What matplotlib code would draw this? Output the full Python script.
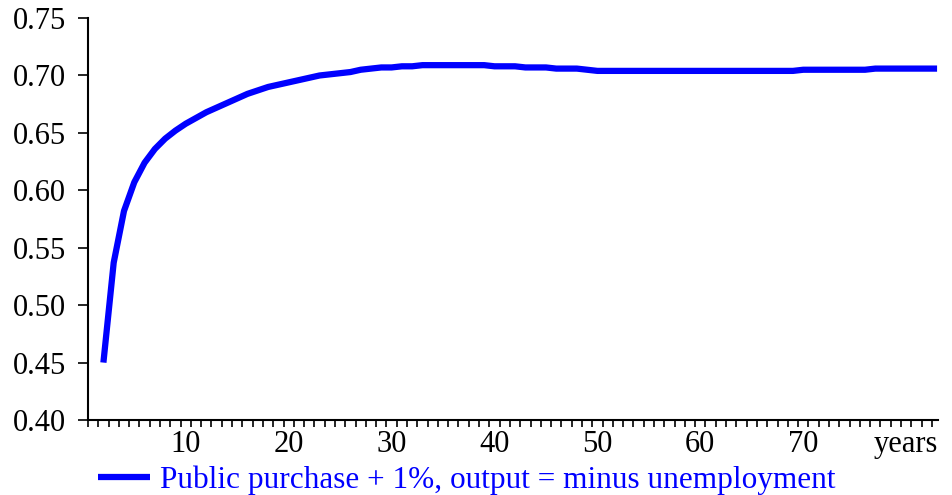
import numpy as np
import matplotlib.pyplot as plt
from matplotlib.ticker import FixedLocator, FormatStrFormatter

plt.rcParams['font.family'] = ['Liberation Serif', 'DejaVu Serif']

# response of output (minus unemployment) to +1% public purchase, by year
years = np.arange(2, 84)
response = [
    0.450, 0.537, 0.582, 0.607, 0.624, 0.636, 0.645, 0.652, 0.658,   # 2-10
    0.663, 0.668, 0.672, 0.676, 0.680, 0.684, 0.687, 0.690, 0.692, 0.694,  # 11-20
    0.696, 0.698, 0.700, 0.701, 0.702, 0.703, 0.705, 0.706, 0.707, 0.707,  # 21-30
    0.708, 0.708, 0.709, 0.709, 0.709, 0.709, 0.709, 0.709, 0.709, 0.708,  # 31-40
    0.708, 0.708, 0.707, 0.707, 0.707, 0.706, 0.706, 0.706, 0.705, 0.704,  # 41-50
    0.704, 0.704, 0.704, 0.704, 0.704, 0.704, 0.704, 0.704, 0.704, 0.704,  # 51-60
    0.704, 0.704, 0.704, 0.704, 0.704, 0.704, 0.704, 0.704, 0.704, 0.705,  # 61-70
    0.705, 0.705, 0.705, 0.705, 0.705, 0.705, 0.706, 0.706, 0.706, 0.706,  # 71-80
    0.706, 0.706, 0.706,                                                   # 81-83
]
label_years = [10, 20, 30, 40, 50, 60, 70, 80]
label_text = ['10', '20', '30', '40', '50', '60', '70', 'years']
y_ticks = [0.40, 0.45, 0.50, 0.55, 0.60, 0.65, 0.70, 0.75]

fig = plt.figure(figsize=(9.52, 4.95), dpi=100)
ax = fig.add_axes([0.0924, 0.1515, 0.893, 0.812])

# years sit in the middle of their tick interval
ax.plot(years - 0.5, response, color='#0000ff', lw=4.5, solid_capstyle='butt',
        label='Public purchase + 1%, output = minus unemployment')

ax.set_xlim(0, 82.6)
ax.set_ylim(0.40, 0.75)

ax.xaxis.set_major_locator(FixedLocator([y - 0.5 for y in label_years]))
ax.set_xticklabels(label_text)
ax.xaxis.set_minor_locator(FixedLocator(np.arange(0, 83)))
ax.tick_params(axis='x', which='major', length=0, pad=7, labelsize=22)
ax.tick_params(axis='x', which='minor', length=5, width=1.2, direction='out')

ax.set_yticks(y_ticks)
ax.yaxis.set_major_formatter(FormatStrFormatter('%.2f'))
ax.tick_params(axis='y', length=7.5, width=1.2, pad=8.5, labelsize=22)

for s in ['top', 'right']:
    ax.spines[s].set_visible(False)
for s in ['left', 'bottom']:
    ax.spines[s].set_linewidth(1.5)

ax.legend(loc='center left', bbox_to_anchor=(0.0118, -0.150), frameon=False,
          fontsize=22.5, labelcolor='#0000ff', handlelength=1.66,
          handletextpad=0.32, borderaxespad=0, borderpad=0)

fig.savefig('out.png', dpi=100)
